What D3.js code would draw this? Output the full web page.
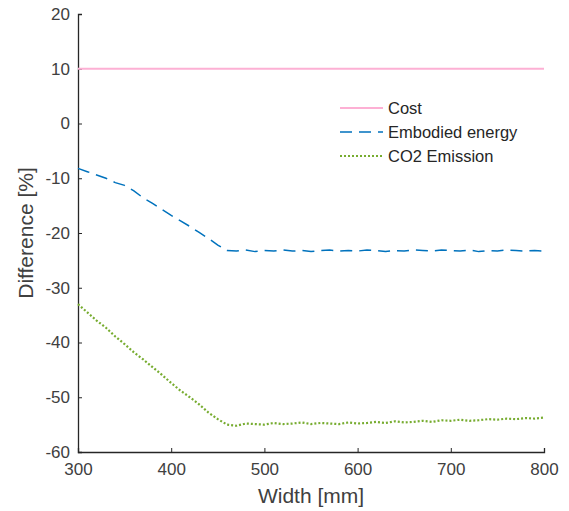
<!DOCTYPE html>
<html>
<head>
<meta charset="utf-8">
<script src="https://cdn.jsdelivr.net/npm/d3@7"></script>
<style>
  body { margin: 0; background: #fff; }
  text { font-family: "Liberation Sans", Arial, sans-serif; }
</style>
</head>
<body>
<div class="chart"></div>
<script>
// widths in mm, every 10 mm
let widths = [300,310,320,330,340,350,360,370,380,390,400,410,420,430,440,450,460,470,480,490,
    500,510,520,530,540,550,560,570,580,590,600,610,620,630,640,650,660,670,680,690,
    700,710,720,730,740,750,760,770,780,790,800];

let costValues = widths.map(function () { return 10; });

let energyValues = [-8.2,-8.8,-9.4,-10.0,-10.8,-11.3,-12.3,-13.6,-14.6,-15.7,-16.8,-17.8,-18.8,-19.9,-21.0,-22.2,-23.2,-23.3,-23.1,-23.4,
    -23.2,-23.3,-23.1,-23.3,-23.2,-23.4,-23.2,-23.1,-23.3,-23.2,-23.3,-23.1,-23.2,-23.4,-23.2,-23.3,-23.1,-23.2,-23.3,-23.1,
    -23.2,-23.3,-23.1,-23.4,-23.2,-23.3,-23.1,-23.2,-23.3,-23.2,-23.3];

let co2Values = [-33.0,-34.5,-36.0,-37.3,-38.9,-40.3,-41.8,-43.1,-44.5,-45.9,-47.4,-48.8,-50.0,-51.3,-52.8,-54.0,-55.0,-55.2,-54.8,-54.9,
    -55.0,-54.7,-54.9,-54.8,-54.6,-54.9,-54.7,-54.8,-54.9,-54.6,-54.8,-54.7,-54.5,-54.7,-54.4,-54.6,-54.5,-54.3,-54.5,-54.2,
    -54.3,-54.1,-54.3,-54.2,-54.0,-54.1,-53.9,-54.0,-53.8,-53.9,-53.7];

let xTicks = [300,400,500,600,700,800];
let yTicks = [-60,-50,-40,-30,-20,-10,0,10,20];

let seriesNames = ["Cost", "Embodied energy", "CO2 Emission"];
let seriesColors = ["#fdb0d4", "#0072bd", "#77ac30"];
let seriesDash = [null, "12,7", "2,2"];
let seriesWidth = [2, 1.5, 2.2];

let width = 569, height = 511;
let margin = { left: 78, right: 25, top: 14, bottom: 59 };

let svg = d3.select(".chart").append("svg").attr("width", width).attr("height", height);

let x = d3.scaleLinear().domain([300, 800]).range([margin.left, width - margin.right]);
let y = d3.scaleLinear().domain([-60, 20]).range([height - margin.bottom, margin.top]);

let fmt = function (d) { return String(d); };

let xAxis = svg.append("g").attr("transform", "translate(0," + y(-60) + ")")
    .call(d3.axisBottom(x).tickValues(xTicks).tickFormat(fmt).tickSize(-4).tickPadding(11));
let yAxis = svg.append("g").attr("transform", "translate(" + x(300) + ",0)")
    .call(d3.axisLeft(y).tickValues(yTicks).tickFormat(fmt).tickSize(-4).tickPadding(8));

[xAxis, yAxis].forEach(function (ax) {
    ax.selectAll(".domain").attr("stroke", "#262626").attr("stroke-width", 1.3);
    ax.selectAll(".tick line").attr("stroke", "#262626");
    ax.selectAll(".tick text").attr("fill", "#404040").style("font-size", "17px");
});

let allValues = [costValues, energyValues, co2Values];
let line = d3.line().x(function (d) { return x(d[0]); }).y(function (d) { return y(d[1]); });

allValues.forEach(function (vals, k) {
    let pts = widths.map(function (w, i) { return [w, vals[i]]; });
    svg.append("path").datum(pts)
        .attr("d", line)
        .attr("fill", "none")
        .attr("stroke", seriesColors[k])
        .attr("stroke-width", seriesWidth[k])
        .attr("stroke-dasharray", seriesDash[k]);
});

// legend
let legend = svg.append("g").attr("transform", "translate(340,108)");
seriesNames.forEach(function (name, k) {
    let g = legend.append("g").attr("transform", "translate(0," + k * 24 + ")");
    g.append("line").attr("x1", 0).attr("x2", 43).attr("y1", 0).attr("y2", 0)
        .attr("stroke", seriesColors[k]).attr("stroke-width", seriesWidth[k])
        .attr("stroke-dasharray", seriesDash[k]);
    g.append("text").attr("x", 48).attr("y", 6).attr("fill", "#262626")
        .style("font-size", "16.5px").text(name);
});

svg.append("text").attr("x", (x(300) + x(800)) / 2).attr("y", 503)
    .attr("text-anchor", "middle").attr("fill", "#404040").style("font-size", "21px")
    .text("Width [mm]");

svg.append("text").attr("transform", "translate(33," + y(-20) + ") rotate(-90)")
    .attr("text-anchor", "middle").attr("fill", "#404040").style("font-size", "21px")
    .text("Difference [%]");
</script>
</body>
</html>
